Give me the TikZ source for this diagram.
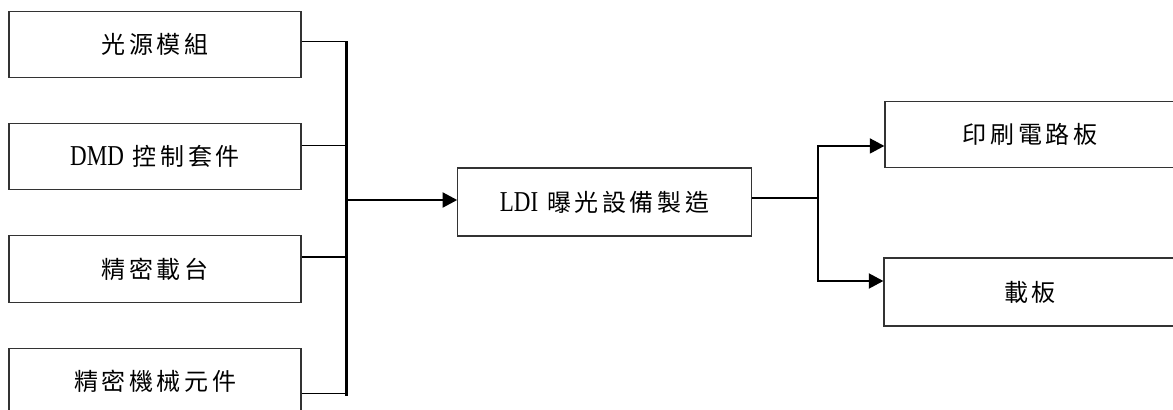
\documentclass[tikz,border=0pt]{standalone}
\usepackage{fontspec}
\newfontfamily\cjk[LetterSpace=15]{Noto Sans CJK TC}
\newfontfamily\latin[Scale=1.2,FakeStretch=0.8]{Liberation Serif}
\usetikzlibrary{calc,arrows.meta}
\tikzset{
	part/.style={draw=black!80, line width=0.8pt, minimum width=219pt, minimum height=50pt, inner sep=0pt, font=\cjk\fontsize{18}{20}\selectfont},
	link/.style={line width=1.3pt},
	bus/.style={line width=2.2pt},
	tip/.style={-{Triangle[length=11pt,width=11pt]}}
}
\begin{document}
\begin{tikzpicture}[x=0.75pt,y=-0.75pt]
				%%%%% START %%%%%
				\def\xl{155}
				\def\xm{604.5}
				\def\xr{1030}
				\def\busl{346.5}
				\def\busr{818}
				\useasboundingbox (0,0) rectangle (1173,410);
				
				\node[part] (s1) at (\xl,44.5) {光源模組};
				\node[part] (s2) at (\xl,156.5) {{\latin DMD} 控制套件};
				\node[part] (s3) at (\xl,269) {精密載台};
				\node[part] (s4) at (\xl,381.5) {精密機械元件};
				
				\node[part, minimum width=220pt, minimum height=51pt] (ldi) at (\xm,202) {{\latin LDI} 曝光設備製造};
				
				\node[part, minimum width=217.5pt] (pcb) at (\xr,134.5) {印刷電路板};
				\node[part, minimum height=51pt] (plate) at (\xr,292) {載板};
				
				% left side
				\coordinate (jl) at (\busl,200);
				\draw[link] ([yshift=2.25pt]s1.east) coordinate (a1) -- (a1 -| jl);
				\draw[link] ([yshift=8.25pt]s2.east) coordinate (a2) -- (a2 -| jl);
				\draw[link] ([yshift=9pt]s3.east) coordinate (a3) -- (a3 -| jl);
				\draw[link] ([yshift=-9pt]s4.east) coordinate (a4) -- (a4 -| jl);
				\draw[bus] (a1 -| jl) -- ($(a4 -| jl)+(0,2)$);
				\draw[bus,tip] (jl) -- (jl -| ldi.west);
				
				% right side
				\coordinate (jr) at (\busr,198);
				\draw[link] ([yshift=3pt]ldi.east) -- (jr);
				\coordinate (t1) at ([yshift=-8.6pt]pcb.west);
				\coordinate (t2) at ([yshift=8.25pt]plate.west);
				\draw[bus,{Triangle[length=11pt,width=11pt]}-{Triangle[length=11pt,width=11pt]}] (t1) -- (t1 -| jr) -- (t2 -| jr) -- (t2);
				%%%%% END %%%%%
\end{tikzpicture}
\end{document}
